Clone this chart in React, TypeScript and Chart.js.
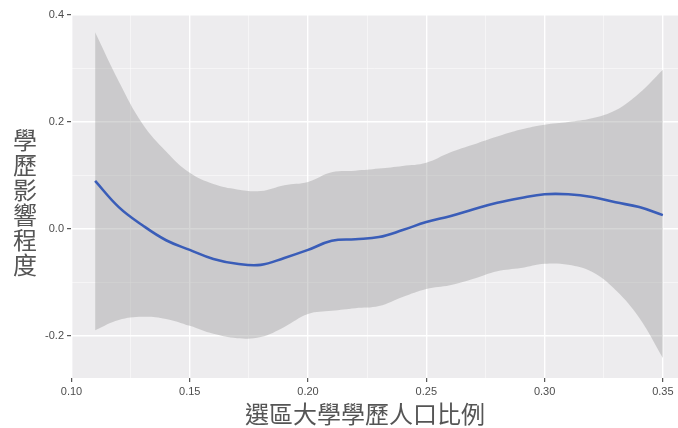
import React, { useEffect, useRef } from "react";
import { Chart, registerables } from "chart.js";

Chart.register(...registerables);

const xValues = [0.11, 0.12, 0.13, 0.14, 0.15, 0.16, 0.17, 0.18, 0.19, 0.2, 0.21, 0.22, 0.23, 0.24, 0.25, 0.26, 0.27, 0.28, 0.29, 0.3, 0.31, 0.32, 0.33, 0.34, 0.35];
const fitValues = [0.09, 0.041, 0.007, -0.021, -0.039, -0.056, -0.065, -0.067, -0.054, -0.039, -0.022, -0.019, -0.015, -0.002, 0.013, 0.024, 0.037, 0.049, 0.058, 0.065, 0.065, 0.06, 0.05, 0.041, 0.026];
const upperValues = [0.368, 0.276, 0.197, 0.145, 0.105, 0.084, 0.074, 0.071, 0.082, 0.088, 0.106, 0.109, 0.113, 0.118, 0.124, 0.143, 0.158, 0.173, 0.186, 0.195, 0.2, 0.207, 0.222, 0.254, 0.298];
const lowerValues = [-0.189, -0.17, -0.164, -0.168, -0.181, -0.196, -0.204, -0.202, -0.183, -0.159, -0.153, -0.148, -0.144, -0.127, -0.112, -0.105, -0.093, -0.079, -0.073, -0.065, -0.067, -0.08, -0.114, -0.166, -0.241];

const xTicks = [0.1, 0.125, 0.15, 0.175, 0.2, 0.225, 0.25, 0.275, 0.3, 0.325, 0.35];
const yTicks = [-0.2, -0.1, 0, 0.1, 0.2, 0.3, 0.4];

const xTitle = "選區大學學歷人口比例";
const yTitle = "學歷影響程度";

const isMajorX = (v: number) => Math.abs(v * 20 - Math.round(v * 20)) < 1e-6;
const isMajorY = (v: number) => Math.abs(v * 5 - Math.round(v * 5)) < 1e-6;

export default function App() {
  const ref = useRef<HTMLCanvasElement | null>(null);

  useEffect(() => {
    if (!ref.current) return;
    const pts = (arr: number[]) => xValues.map((x, i) => ({ x, y: arr[i] }));

    const panelPlugin = {
      id: "panel",
      beforeDraw(chart: any) {
        const { ctx, chartArea } = chart;
        ctx.save();
        ctx.fillStyle = "#EDECEE";
        ctx.fillRect(chartArea.left, chartArea.top, chartArea.right - chartArea.left, chartArea.bottom - chartArea.top);
        ctx.restore();
      },
      afterDraw(chart: any) {
        const { ctx } = chart;
        ctx.save();
        ctx.fillStyle = "#555555";
        ctx.font = '24px "Noto Sans CJK TC"';
        ctx.textAlign = "center";
        ctx.textBaseline = "middle";
        ctx.fillText(xTitle, 365, 414);
        const chars = Array.from(yTitle);
        const step = 25;
        const startY = 202 - ((chars.length - 1) * step) / 2;
        chars.forEach((c, i) => ctx.fillText(c, 25, startY + i * step));
        ctx.restore();
      },
    };

    const chart = new Chart(ref.current, {
      type: "line",
      data: {
        datasets: [
          {
            label: "fit",
            data: pts(fitValues),
            borderWidth: 2.6,
            pointRadius: 0,
            tension: 0.4,
            fill: false,
            borderColor: "#3A5DB8",
          },
          {
            label: "upper",
            data: pts(upperValues),
            borderWidth: 0,
            pointRadius: 0,
            tension: 0.4,
            fill: "+1",
            backgroundColor: "rgba(153,153,153,0.4)",
            borderColor: "rgba(0,0,0,0)",
          },
          {
            label: "lower",
            data: pts(lowerValues),
            borderWidth: 0,
            pointRadius: 0,
            tension: 0.4,
            fill: false,
            borderColor: "rgba(0,0,0,0)",
          },
        ],
      },
      options: {
        animation: false,
        responsive: false,
        layout: { padding: { top: 14, left: 0, right: 0, bottom: 0 } },
        plugins: { legend: { display: false }, tooltip: { enabled: false } },
        scales: {
          x: {
            type: "linear",
            min: 0.0998,
            max: 0.3564,
            afterFit(scale: any) {
              scale.height = 50;
            },
            afterBuildTicks(scale: any) {
              scale.ticks = xTicks.map((value) => ({ value }));
            },
            border: { display: false },
            grid: {
              color: (c: any) => (c.tick && isMajorX(c.tick.value) ? "#FFFFFF" : "rgba(255,255,255,0.7)"),
              lineWidth: (c: any) => (c.tick && isMajorX(c.tick.value) ? 1.4 : 0.7),
              tickColor: (c: any) => (c.tick && isMajorX(c.tick.value) ? "#333333" : "rgba(0,0,0,0)"),
              tickLength: 4,
              tickWidth: 1,
            },
            ticks: {
              autoSkip: false,
              maxRotation: 0,
              padding: 3,
              color: "#4D4D4D",
              font: { family: '"Liberation Sans", Arial, sans-serif', size: 11 },
              callback: (v: any) => (isMajorX(Number(v)) ? Number(v).toFixed(2) : ""),
            },
          },
          y: {
            type: "linear",
            min: -0.2785,
            max: 0.402,
            afterFit(scale: any) {
              scale.width = 71;
            },
            afterBuildTicks(scale: any) {
              scale.ticks = yTicks.map((value) => ({ value }));
            },
            border: { display: false },
            grid: {
              color: (c: any) => (c.tick && isMajorY(c.tick.value) ? "#FFFFFF" : "rgba(255,255,255,0.7)"),
              lineWidth: (c: any) => (c.tick && isMajorY(c.tick.value) ? 1.4 : 0.7),
              tickColor: (c: any) => (c.tick && isMajorY(c.tick.value) ? "#333333" : "rgba(0,0,0,0)"),
              tickLength: 4,
              tickWidth: 1,
            },
            ticks: {
              autoSkip: false,
              padding: 3,
              color: "#4D4D4D",
              font: { family: '"Liberation Sans", Arial, sans-serif', size: 11 },
              callback: (v: any) => (isMajorY(Number(v)) ? Number(v).toFixed(1) : ""),
            },
          },
        },
      },
      plugins: [panelPlugin],
    });
    return () => chart.destroy();
  }, []);

  return (
    <div style={{ position: "fixed", left: 0, top: 0, width: 678, height: 428, background: "#FFFFFF" }}>
      <canvas ref={ref} width={678} height={428} style={{ width: 678, height: 428, display: "block" }} />
    </div>
  );
}
